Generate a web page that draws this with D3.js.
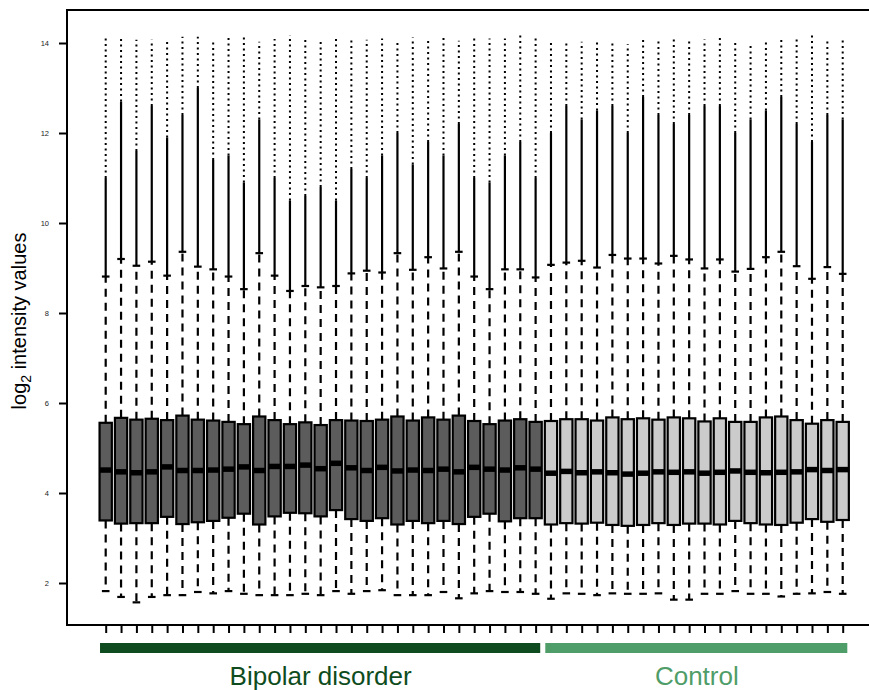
<!DOCTYPE html>
<html>
<head>
<meta charset="utf-8">
<script src="https://cdn.jsdelivr.net/npm/d3@7"></script>
<style>
  body { margin: 0; background: #fff; }
  text { font-family: "Liberation Sans", Arial, sans-serif; }
</style>
</head>
<body>
<script>
// per-sample box stats (log2 intensity)
var groups = ["Bipolar disorder", "Control"];
var groupSizes = [29, 20];
var yTicks = [2, 4, 6, 8, 10, 12, 14];

var medians = [4.51, 4.47, 4.45, 4.47, 4.58, 4.50, 4.50, 4.51, 4.53, 4.58, 4.50, 4.59, 4.59, 4.62, 4.54, 4.66, 4.56,
  4.50, 4.57, 4.49, 4.51, 4.50, 4.53, 4.47, 4.57, 4.53, 4.51, 4.56, 4.53,
  4.44, 4.48, 4.45, 4.47, 4.45, 4.42, 4.44, 4.47, 4.46, 4.47, 4.44, 4.46, 4.49, 4.46, 4.45, 4.46, 4.47, 4.52, 4.50, 4.52];
var q1 = [3.39, 3.32, 3.33, 3.33, 3.47, 3.31, 3.35, 3.38, 3.45, 3.54, 3.30, 3.48, 3.56, 3.55, 3.48, 3.62, 3.42,
  3.38, 3.44, 3.30, 3.38, 3.33, 3.38, 3.31, 3.47, 3.54, 3.37, 3.44, 3.44,
  3.30, 3.33, 3.32, 3.34, 3.29, 3.27, 3.29, 3.33, 3.29, 3.32, 3.32, 3.30, 3.38, 3.33, 3.30, 3.29, 3.34, 3.42, 3.36, 3.40];
var q3 = [5.56, 5.67, 5.63, 5.65, 5.62, 5.72, 5.63, 5.61, 5.58, 5.53, 5.70, 5.62, 5.53, 5.57, 5.51, 5.62, 5.61,
  5.60, 5.63, 5.70, 5.61, 5.68, 5.63, 5.72, 5.60, 5.53, 5.61, 5.64, 5.58,
  5.60, 5.64, 5.64, 5.61, 5.68, 5.64, 5.66, 5.63, 5.68, 5.66, 5.59, 5.66, 5.58, 5.58, 5.68, 5.70, 5.62, 5.54, 5.62, 5.58];
var whiskLo = [1.82, 1.69, 1.57, 1.69, 1.73, 1.73, 1.80, 1.77, 1.82, 1.76, 1.73, 1.73, 1.73, 1.76, 1.73, 1.82, 1.76,
  1.82, 1.84, 1.73, 1.73, 1.73, 1.80, 1.66, 1.77, 1.82, 1.80, 1.80, 1.76,
  1.65, 1.77, 1.76, 1.73, 1.77, 1.76, 1.76, 1.77, 1.63, 1.63, 1.76, 1.76, 1.82, 1.76, 1.76, 1.70, 1.76, 1.77, 1.80, 1.76];
var whiskHi = [8.81, 9.20, 9.05, 9.14, 8.83, 9.36, 9.03, 8.97, 8.81, 8.53, 9.33, 8.83, 8.49, 8.60, 8.57, 8.60, 8.88,
  8.94, 8.90, 9.33, 8.96, 9.24, 8.99, 9.36, 8.81, 8.53, 8.97, 8.97, 8.79,
  9.07, 9.12, 9.16, 9.01, 9.29, 9.21, 9.21, 9.10, 9.27, 9.19, 8.99, 9.19, 8.92, 8.98, 9.24, 9.36, 9.04, 8.76, 9.02, 8.87];
// outliers: dense run above the whisker, then sparse up to the max
var outDense = [11.0, 12.7, 11.6, 12.6, 11.9, 12.4, 13.0, 11.4, 11.5, 10.9, 12.3, 11.0, 10.5, 10.6, 10.8, 10.5, 11.2,
  11.0, 11.5, 12.0, 11.3, 11.8, 11.5, 12.2, 11.0, 10.9, 11.5, 11.8, 11.0,
  12.0, 12.6, 12.3, 12.5, 12.6, 12.0, 12.8, 12.4, 12.2, 12.4, 12.6, 12.6, 12.0, 12.3, 12.5, 12.8, 12.2, 11.8, 12.4, 12.3];
var outMax = [14.14, 14.09, 14.07, 14.07, 14.03, 14.14, 14.14, 14.05, 14.14, 14.12, 14.03, 14.09, 14.17, 14.09, 14.07, 14.10, 14.10,
  14.07, 14.10, 14.05, 14.12, 14.08, 14.15, 14.05, 14.12, 14.10, 14.10, 14.22, 14.10,
  14.00, 14.03, 14.03, 14.05, 14.05, 13.97, 14.10, 14.05, 14.10, 14.08, 14.08, 14.12, 14.03, 13.97, 14.08, 14.08, 14.10, 14.18, 14.09, 14.07];

var boxFill = ["#5c5c5c", "#cbcbcb"];
var groupColor = ["#0e4c20", "#4f9d68"];

var W = 869, H = 690;
var svg = d3.select("body").append("svg")
    .attr("width", W)
    .attr("height", H);

var n = medians.length;
var data = d3.range(n).map(function(i) {
  return {pos: i + 1, g: i < groupSizes[0] ? 0 : 1, med: medians[i], q1: q1[i], q3: q3[i],
    lo: whiskLo[i], hi: whiskHi[i], dense: outDense[i], max: outMax[i]};
});

var x = d3.scaleLinear().domain([1, n]).range([105.7, 842.7]);
var y = d3.scaleLinear().domain([2, 14]).range([583, 43]);
var step = x(2) - x(1);
var bw = step * 0.8;

// frame (right side runs off the image)
svg.append("rect")
  .attr("x", 67).attr("y", 10)
  .attr("width", 830).attr("height", 615)
  .attr("fill", "none").attr("stroke", "#000").attr("stroke-width", 2);

// y axis
var yAxis = svg.append("g")
  .attr("transform", "translate(67,0)")
  .call(d3.axisLeft(y).tickValues(yTicks).tickSize(8).tickSizeOuter(0).tickPadding(10));
yAxis.select(".domain").remove();
yAxis.selectAll("line").attr("stroke-width", 2);
yAxis.selectAll("text").style("font-size", "7.5px").attr("fill", "#222");

// x ticks
var xAxis = svg.append("g")
  .attr("transform", "translate(0,625)")
  .call(d3.axisBottom(x).tickValues(d3.range(1, n + 1)).tickSize(8).tickFormat(""));
xAxis.select(".domain").remove();
xAxis.selectAll("line").attr("stroke-width", 2);

var g = svg.selectAll(".bx").data(data).enter().append("g").attr("class", "bx");

// outlier columns
g.append("line")
  .attr("x1", function(d) { return x(d.pos); }).attr("x2", function(d) { return x(d.pos); })
  .attr("y1", function(d) { return y(d.hi); }).attr("y2", function(d) { return y(d.dense); })
  .attr("stroke", "#000").attr("stroke-width", 2.2);
g.append("line")
  .attr("x1", function(d) { return x(d.pos); }).attr("x2", function(d) { return x(d.pos); })
  .attr("y1", function(d) { return y(d.dense); }).attr("y2", function(d) { return y(d.max); })
  .attr("stroke", "#000").attr("stroke-width", 2).attr("stroke-dasharray", "2,3.5");

// whiskers
g.append("line")
  .attr("x1", function(d) { return x(d.pos); }).attr("x2", function(d) { return x(d.pos); })
  .attr("y1", function(d) { return y(d.q3); }).attr("y2", function(d) { return y(d.hi); })
  .attr("stroke", "#000").attr("stroke-width", 2.2).attr("stroke-dasharray", "8,6");
g.append("line")
  .attr("x1", function(d) { return x(d.pos); }).attr("x2", function(d) { return x(d.pos); })
  .attr("y1", function(d) { return y(d.q1); }).attr("y2", function(d) { return y(d.lo); })
  .attr("stroke", "#000").attr("stroke-width", 2.2).attr("stroke-dasharray", "8,6");
["hi", "lo"].forEach(function(k) {
  g.append("line")
    .attr("x1", function(d) { return x(d.pos) - 3.8; }).attr("x2", function(d) { return x(d.pos) + 3.8; })
    .attr("y1", function(d) { return y(d[k]); }).attr("y2", function(d) { return y(d[k]); })
    .attr("stroke", "#000").attr("stroke-width", 2.2);
});

// boxes
g.append("rect")
  .attr("x", function(d) { return x(d.pos) - bw / 2; })
  .attr("y", function(d) { return y(d.q3); })
  .attr("width", bw)
  .attr("height", function(d) { return y(d.q1) - y(d.q3); })
  .attr("fill", function(d) { return boxFill[d.g]; })
  .attr("stroke", "#000").attr("stroke-width", 2.2);
g.append("line")
  .attr("x1", function(d) { return x(d.pos) - bw / 2; }).attr("x2", function(d) { return x(d.pos) + bw / 2; })
  .attr("y1", function(d) { return y(d.med); }).attr("y2", function(d) { return y(d.med); })
  .attr("stroke", "#000").attr("stroke-width", 5.5);

// group bars and labels
var starts = [1, groupSizes[0] + 1];
groups.forEach(function(name, i) {
  var a = starts[i], b = starts[i] + groupSizes[i] - 1;
  svg.append("rect")
    .attr("x", x(a - 0.37)).attr("y", 643)
    .attr("width", x(b + 0.3) - x(a - 0.37)).attr("height", 10)
    .attr("fill", groupColor[i]);
  svg.append("text")
    .attr("x", (x(a) + x(b)) / 2).attr("y", 685)
    .attr("text-anchor", "middle")
    .style("font-size", "26px")
    .attr("fill", groupColor[i])
    .text(name);
});

// y label
var yl = svg.append("text")
  .attr("transform", "translate(26,321) rotate(-90)")
  .attr("text-anchor", "middle")
  .style("font-size", "20px");
yl.append("tspan").text("log");
yl.append("tspan").attr("dy", 5).style("font-size", "14px").text("2");
yl.append("tspan").attr("dy", -5).text(" intensity values");
</script>
</body>
</html>
